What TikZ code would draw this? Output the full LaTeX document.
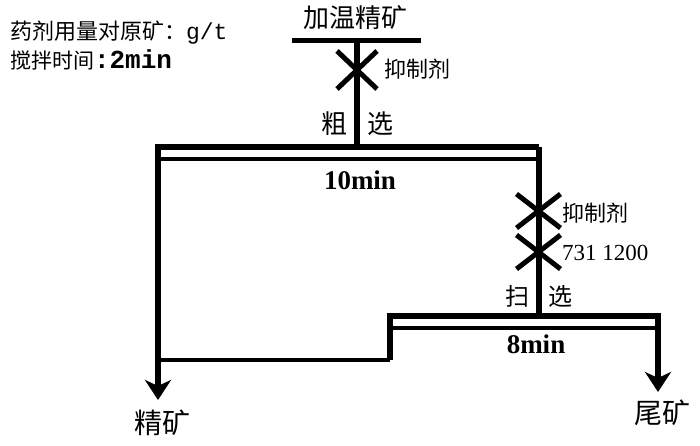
\documentclass[tikz,border=0pt]{standalone}
\usepackage{fontspec}
\setmainfont{Liberation Serif}
\newfontfamily\cjk{Noto Sans CJK SC}
\newfontfamily\monof{Liberation Mono}
\usetikzlibrary{arrows.meta}
\tikzset{
  thickln/.style={line width=6pt, line join=miter},
  thinln/.style={line width=4pt},
  crossln/.style={line width=5pt},
  arr/.style={-{Stealth[length=20pt,width=26pt,inset=6pt]}},
  lbl/.style={inner sep=0pt, outer sep=0pt},
  cjklbl/.style={lbl, font=\cjk\fontsize{24}{28}\selectfont},
  timelbl/.style={lbl, font=\bfseries\fontsize{27}{30}\selectfont},
}
\newcommand{\xmark}[3]{\draw[crossln] (#1) +(-#2,-#3) -- +(#2,#3) (#1) +(-#2,#3) -- +(#2,-#3);}
\begin{document}
\begin{tikzpicture}[x=1pt,y=-1pt]
\useasboundingbox (0,0) rectangle (700,446);
% coordinates
\coordinate (feedL) at (292,40.5);
\coordinate (feedR) at (421,40.5);
\coordinate (feedM) at (357,40.5);
\coordinate (rTL) at (158,147.5);
\coordinate (rTR) at (538.5,147.5);
\coordinate (rInL) at (161,159.5);
\coordinate (rInR) at (535.5,159.5);
\coordinate (conc) at (158,400);
\coordinate (sTL) at (390,316);
\coordinate (sTR) at (658,316);
\coordinate (sInL) at (393,327.5);
\coordinate (sInR) at (655,327.5);
\coordinate (sBL) at (390,360);
\coordinate (jn) at (158,360);
\coordinate (tail) at (658,392);
\coordinate (x1) at (357,70);
\coordinate (x2) at (538.5,211);
\coordinate (x3) at (538.5,252);
% texts
\node[lbl, anchor=west, font=\cjk\fontsize{22}{26}\selectfont] (note1) at (10,33) {药剂用量对原矿：{\monof\fontsize{23}{26}\selectfont g/t}};
\node[lbl, anchor=west, font=\cjk\fontsize{21}{25}\selectfont] (note2) at (10,60) {搅拌时间{\monof\bfseries\fontsize{26}{28}\selectfont :2min}};
\node[cjklbl, font=\cjk\fontsize{26}{30}\selectfont] (feed) at (355,18) {加温精矿};
\node[cjklbl, anchor=west, font=\cjk\fontsize{22}{26}\selectfont] (dep1) at (384,69) {抑制剂};
\node[cjklbl, font=\cjk\fontsize{26}{30}\selectfont] (cu) at (334,124) {粗};
\node[cjklbl, font=\cjk\fontsize{26}{30}\selectfont] (xuan1) at (380,124) {选};
\node[timelbl] (t10) at (360,180) {10min};
\node[cjklbl, anchor=west, font=\cjk\fontsize{22}{26}\selectfont] (dep2) at (562,213) {抑制剂};
\node[lbl, anchor=west, font=\fontsize{23}{26}\selectfont] (coll) at (562,253) {731 1200};
\node[cjklbl] (sao) at (517,296) {扫};
\node[cjklbl] (xuan2) at (560,296) {选};
\node[timelbl] (t8) at (536,344) {8min};
\node[cjklbl, font=\cjk\fontsize{28}{32}\selectfont] (concl) at (162,423) {精矿};
\node[cjklbl, font=\cjk\fontsize{28}{32}\selectfont] (taill) at (662,413) {尾矿};
% feed
\draw[line width=5pt] (feedL) -- (feedR);
\draw[line width=6pt] (feedM) -- (feedM |- rTL);
\xmark{x1}{20}{19}
% roughing cell
\draw[thickln, arr] (rTR) -- (rTL) -- (conc);
\draw[thinln] (rInL) -- (rInR);
\draw[thickln] (rTR) -- (rTR |- sTL);
\xmark{x2}{22}{17}
\xmark{x3}{22}{17}
% scavenging cell
\draw[thickln, arr] (sBL) -- (sTL) -- (sTR) -- (tail);
\draw[thinln] (sInL) -- (sInR);
\draw[line width=4.5pt, line join=miter] (sBL) -- (jn);
\end{tikzpicture}
\end{document}
